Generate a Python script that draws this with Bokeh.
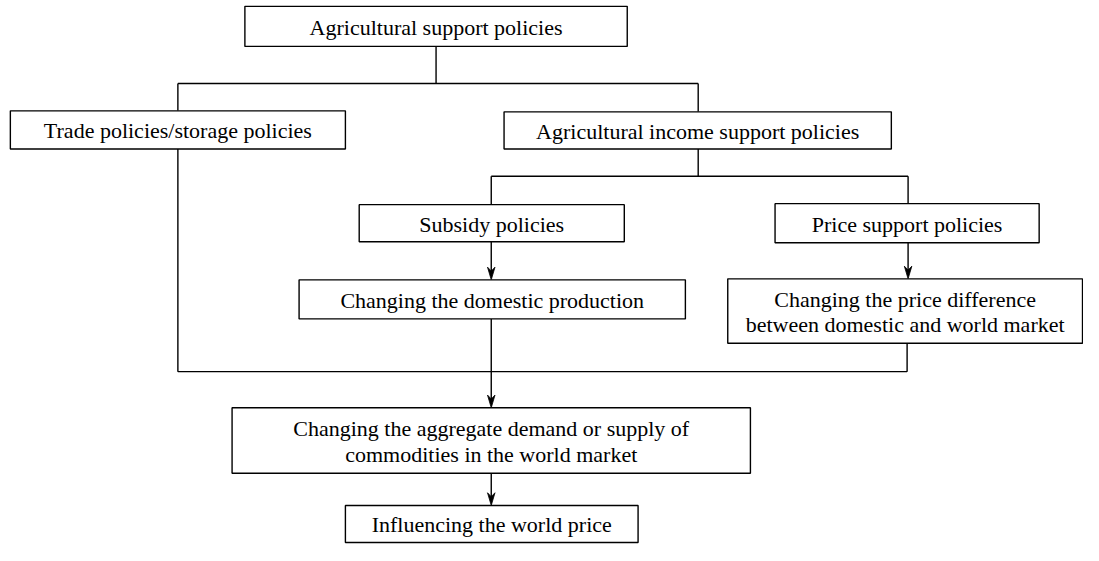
from bokeh.plotting import figure
from bokeh.models import Range1d
from bokeh.core.properties import value
from bokeh.embed import file_html
from bokeh.resources import INLINE

# Box labels (one entry per box, lines separated by "\n")
labels = [
    "Agricultural support policies",
    "Trade policies/storage policies",
    "Agricultural income support policies",
    "Subsidy policies",
    "Price support policies",
    "Changing the domestic production",
    "Changing the price difference\nbetween domestic and world market",
    "Changing the aggregate demand or supply of\ncommodities in the world market",
    "Influencing the world price",
]
# Box geometry (reference pixel space, y pointing down)
box_left = [248, 10, 511, 364, 786, 303, 738, 235, 350]
box_right = [636, 350, 904, 633, 1054, 695, 1098, 761, 647]
box_top = [8, 115, 116, 211, 210, 288, 287, 419, 519]
box_bottom = [49, 154, 154, 249, 250, 328, 353, 486, 557]

# Plain connector segments (x0, y0, x1, y1)
conn_x0 = [442, 180, 180, 708, 708, 498, 498, 921, 180, 180, 920]
conn_y0 = [49, 87, 87, 87, 154, 182, 182, 182, 154, 382, 353]
conn_x1 = [442, 708, 180, 708, 708, 921, 498, 921, 180, 920, 920]
conn_y1 = [87, 87, 115, 116, 182, 182, 211, 210, 382, 382, 382]

# Arrows (x, y start, y end)
arr_x = [498, 921, 498, 498]
arr_y0 = [249, 250, 328, 486]
arr_y1 = [288, 287, 419, 519]

FONT = "Liberation Serif"
FS = "22px"
LW = 1.4

p = figure(width=1083, height=545, output_backend="svg", toolbar_location=None,
           x_range=Range1d(0, 1099), y_range=Range1d(560, 2), min_border=0)
p.axis.visible = False
p.xgrid.visible = False
p.ygrid.visible = False
p.outline_line_color = None
p.background_fill_color = "white"
p.border_fill_color = "white"

# connectors
p.segment(x0=conn_x0, y0=conn_y0, x1=conn_x1, y1=conn_y1, line_color="black", line_width=LW)
# arrow shafts
p.segment(x0=arr_x, y0=arr_y0, x1=arr_x, y1=[y - 6 for y in arr_y1], line_color="black", line_width=LW)
# arrow heads derived from arrow end points
HL, HW, NOTCH = 13, 3.8, 9
head_xs = [[x, x + HW, x, x - HW] for x in arr_x]
head_ys = [[y, y - HL, y - NOTCH, y - HL] for y in arr_y1]
p.patches(xs=head_xs, ys=head_ys, fill_color="black", line_color="black", line_width=0.8)

# boxes
p.quad(left=box_left, right=box_right, top=box_top, bottom=box_bottom,
       fill_color="white", line_color="black", line_width=LW)

# text (split multi-line labels)
tx, ty, tt = [], [], []
LINE_H = 26
for lab, l, r, t, b in zip(labels, box_left, box_right, box_top, box_bottom):
    lines = lab.split("\n")
    cx = (l + r) / 2
    cy = (t + b) / 2
    n = len(lines)
    for i, s in enumerate(lines):
        tx.append(cx)
        ty.append(cy + (i - (n - 1) / 2) * LINE_H + 1)
        tt.append(s)
p.text(x=tx, y=ty, text=tt, text_align="center", text_baseline="middle",
       text_font=value(FONT), text_font_size=value(FS), text_color="black")

open("out.html", "w").write(file_html(p, INLINE))
